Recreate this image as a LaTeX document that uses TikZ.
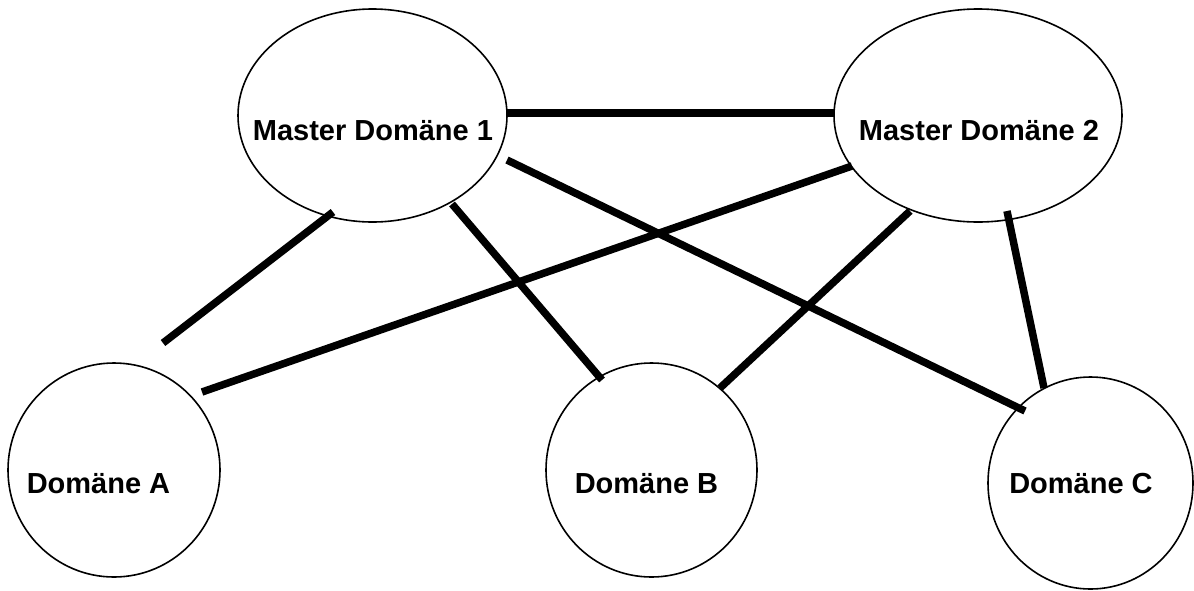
\documentclass[tikz,border=0pt]{standalone}
\usepackage{fontspec}
\setmainfont{Liberation Sans}
\usetikzlibrary{shapes.geometric}
\begin{document}
\begin{tikzpicture}[x=1pt,y=-1pt,
  domnode/.style={draw, ellipse, line width=1.6pt, inner sep=0pt},
  dlabel/.style={anchor=base, inner sep=0pt, font=\fontsize{29}{32}\selectfont\bfseries},
  link/.style={line width=7.5pt}]
\useasboundingbox (0,0) rectangle (1194,590);

% domains
\node[domnode, minimum width=269pt, minimum height=213pt] (m1) at (372.5,115.5) {};
\node[domnode, minimum width=288pt, minimum height=213pt] (m2) at (978,115.5) {};
\node[domnode, minimum width=212pt, minimum height=214pt] (a) at (114,470) {};
\node[domnode, minimum width=211pt, minimum height=214pt] (b) at (651.5,470) {};
\node[domnode, minimum width=205pt, minimum height=212pt] (c) at (1090.5,483) {};

% labels
\node[dlabel] (m1t) at (373,140) {Master Domäne 1};
\node[dlabel] (m2t) at (979,140) {Master Domäne 2};
\node[dlabel] (at) at (98.5,493) {Domäne A};
\node[dlabel] (bt) at (646.5,493) {Domäne B};
\node[dlabel] (ct) at (1081,493) {Domäne C};

% connector end points
\coordinate (m1e)  at (507,113);
\coordinate (m2w)  at (834,113);
\coordinate (m1sw) at (333,212);
\coordinate (m1s)  at (452,204);
\coordinate (m1se) at (507,160);
\coordinate (m2sw) at (852,166);
\coordinate (m2s)  at (910,211);
\coordinate (m2se) at (1007,211);
\coordinate (anw)  at (163,343);
\coordinate (ane)  at (202,392);
\coordinate (bnw)  at (602,380);
\coordinate (bne)  at (720,388);
\coordinate (cnw)  at (1025,411);
\coordinate (cn)   at (1044,388);

% connectors
\draw[link] (m1e) -- (m2w);
\draw[link] (m1sw) -- (anw);
\draw[link] (m1s) -- (bnw);
\draw[link] (m1se) -- (cnw);
\draw[link] (m2sw) -- (ane);
\draw[link] (m2s) -- (bne);
\draw[link] (m2se) -- (cn);
\end{tikzpicture}
\end{document}
